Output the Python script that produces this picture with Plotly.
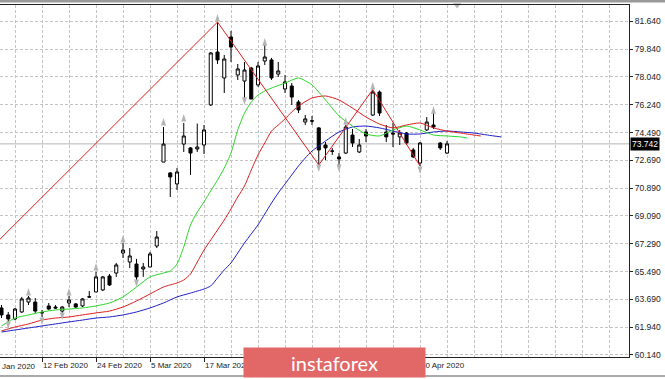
import plotly.graph_objects as go

# ---------------- data ----------------
bar_idx = list(range(67))  # trading days 4 Feb 2020 .. 6 May 2020

opens = [63.17, 62.72, 62.46, 62.91, 63.55, 63.55, 62.85, 63.30, 63.23, 62.97,
         63.49, 63.43, 63.30, 63.87, 64.20, 64.33, 65.23, 65.42, 66.71, 66.13,
         66.00, 65.68, 65.81, 67.16, 72.57, 71.87, 71.16, 73.73, 73.48, 73.41,
         73.67, 76.25, 79.66, 77.99, 80.63, 78.18, 77.79, 78.63, 77.54, 79.08,
         79.15, 78.24, 77.28, 77.47, 76.44, 75.15, 75.23, 74.77, 73.67, 73.29,
         72.90, 73.15, 74.31, 73.22, 74.51, 75.60, 77.08, 74.51, 74.44, 74.19,
         74.44, 73.35, 72.51, 74.64, 74.96, 73.80, 73.15]
highs = [63.36, 62.91, 63.17, 63.88, 63.94, 63.81, 63.04, 63.49, 63.36, 63.30,
         63.94, 63.49, 63.81, 64.26, 65.49, 65.23, 65.36, 66.07, 67.36, 67.03,
         66.33, 66.07, 66.78, 68.13, 74.83, 71.93, 72.19, 75.09, 73.54, 75.05,
         74.96, 79.66, 81.59, 79.47, 81.02, 78.89, 79.02, 78.70, 79.02, 80.11,
         79.28, 79.02, 78.18, 77.66, 76.57, 75.60, 75.54, 74.83, 73.86, 73.48,
         73.15, 74.96, 74.70, 74.06, 74.70, 77.24, 77.18, 74.96, 75.09, 74.64,
         74.51, 73.48, 73.86, 75.47, 75.73, 73.86, 73.93]
lows = [62.52, 62.20, 62.39, 62.85, 63.36, 62.85, 62.59, 63.04, 63.10, 62.85,
        63.23, 63.17, 63.23, 63.81, 64.20, 64.26, 64.59, 65.17, 66.39, 65.74,
        64.97, 65.17, 65.81, 67.03, 72.57, 70.32, 70.77, 73.22, 71.74, 73.22,
        73.09, 76.18, 78.89, 77.02, 79.02, 77.86, 76.57, 76.63, 77.41, 78.82,
        77.86, 78.05, 77.02, 76.25, 75.73, 74.96, 74.96, 72.38, 72.70, 73.03,
        72.25, 73.09, 73.54, 73.15, 73.86, 75.54, 75.54, 73.86, 73.54, 73.67,
        73.67, 72.83, 72.32, 74.57, 74.70, 73.35, 73.09]
closes = [62.72, 62.46, 63.10, 63.75, 63.81, 62.97, 62.87, 63.10, 63.17, 63.23,
          63.68, 63.23, 63.75, 63.89, 65.17, 65.17, 64.65, 65.94, 66.90, 66.52,
          65.17, 65.81, 66.65, 67.74, 73.73, 71.61, 71.93, 74.25, 73.15, 73.54,
          74.64, 79.60, 79.15, 79.21, 79.98, 78.57, 78.50, 76.63, 78.76, 79.34,
          77.99, 78.44, 77.73, 76.76, 75.93, 75.35, 75.21, 73.35, 73.48, 73.27,
          72.77, 74.83, 73.80, 73.67, 74.25, 77.08, 75.73, 74.19, 74.38, 74.44,
          73.80, 72.90, 73.80, 75.15, 74.83, 73.48, 73.742]

# Alligator lines (jaw = blue, teeth = red, lips = green)
jaw_idx = [0, 2, 4, 6, 8, 10, 12, 14, 16, 18, 20, 22, 24, 26, 28, 30, 31, 32, 33, 34,
           35, 36, 37, 38, 39, 40, 41, 42, 43, 44, 45, 46, 48, 50, 52, 54, 56, 58, 60,
           62, 64, 66, 68, 70, 72, 74]
jaw_val = [61.62, 61.75, 61.88, 62.01, 62.14, 62.27, 62.39, 62.52, 62.59, 62.72,
           62.91, 63.17, 63.49, 63.88, 64.13, 64.39, 64.59, 65.10, 65.62, 66.07,
           66.71, 67.36, 67.94, 68.52, 69.22, 69.93, 70.58, 71.16, 71.74, 72.32,
           72.83, 73.28, 73.93, 74.51, 74.83, 74.89, 74.77, 74.57, 74.38, 74.38,
           74.51, 74.57, 74.51, 74.44, 74.31, 74.19]

teeth_idx = [0, 2, 4, 6, 8, 10, 12, 14, 16, 18, 20, 22, 24, 26, 27, 28, 29, 30, 31, 32,
             33, 34, 35, 36, 37, 38, 39, 40, 41, 42, 43, 44, 46, 48, 50, 52, 54, 56, 58,
             60, 62, 64, 66, 68, 70, 71]
teeth_val = [61.69, 61.94, 62.14, 62.39, 62.52, 62.59, 62.72, 62.85, 62.97, 63.23,
             63.62, 64.07, 64.52, 64.78, 64.97, 65.36, 66.13, 66.90, 67.55, 68.19,
             68.84, 69.55, 70.32, 71.03, 72.06, 73.03, 73.80, 74.57, 74.96, 75.35,
             75.80, 76.18, 76.70, 76.83, 76.57, 76.05, 75.47, 75.02, 74.77, 74.96,
             75.09, 74.77, 74.57, 74.44, 74.31, 74.25]

lips_idx = [0, 2, 4, 6, 8, 10, 12, 14, 16, 18, 20, 22, 24, 25, 26, 27, 28, 29, 30, 31,
            32, 33, 34, 35, 36, 37, 38, 39, 40, 42, 44, 46, 48, 50, 52, 54, 56, 58, 60,
            62, 64, 66, 68, 69]
lips_val = [62.01, 62.52, 62.72, 62.91, 63.04, 63.10, 63.17, 63.30, 63.49, 63.88,
            64.52, 65.17, 65.42, 65.55, 66.00, 67.10, 68.52, 69.35, 70.00, 70.71,
            71.41, 72.19, 73.15, 74.64, 75.73, 76.44, 76.89, 77.15, 77.34, 77.66,
            77.99, 77.54, 76.57, 75.54, 74.89, 74.38, 74.25, 74.64, 74.89, 74.64,
            74.31, 74.25, 74.19, 74.12]

# ZigZag vertices (first one lies left of the visible window)
zz_idx = [-16, 32, 47, 55, 62]
zz_val = [60.75, 81.59, 72.38, 77.24, 72.32]

# Fractal arrows
frac_up_idx = [4, 10, 14, 18, 24, 27, 32, 39, 51, 55, 64]
frac_up_val = [64.46, 64.46, 66.07, 67.87, 75.41, 75.67, 82.11, 80.56, 75.47, 77.73, 76.18]
frac_dn_idx = [1, 6, 9, 20, 36, 47, 50, 62]
frac_dn_val = [61.81, 62.07, 62.39, 64.52, 76.25, 71.93, 71.93, 71.80]

# chart-shift marker position (bar index) at the top border
shift_idx = 67.5

# Axis labels
x_tick_idx = [6, 14, 22, 30, 38, 46, 54, 62]
x_tick_text = ["12 Feb 2020", "24 Feb 2020", "5 Mar 2020", "17 Mar 2020",
               "27 Mar 2020", "8 Apr 2020", "20 Apr 2020", "30 Apr 2020"]
x_cut_idx = -2
x_cut_text = "31 Jan 2020"

y_tick_vals = [60.140, 61.932, 63.723, 65.515, 67.307, 69.098, 70.890,
               72.682, 74.473, 76.265, 78.057, 79.848, 81.640]
y_tick_text = ["60.140", "61.940", "63.690", "65.490", "67.290", "69.090", "70.890",
               "72.690", "74.490", "76.240", "78.040", "79.840", "81.640"]

# ---------------- figure ----------------
X_RANGE = [-0.222, 92.96]
Y_RANGE = [60.01, 82.69]
W, H = 665, 379
M = dict(l=0, r=36, t=5, b=22)
plot_w = W - M["l"] - M["r"]
plot_h = H - M["t"] - M["b"]

RED = "#dc1e1e"
BLUE = "#1f1fc8"
LIME = "#2ad62a"
ARROW = "#b4b4b4"
FONT = "Liberation Sans"

fig = go.Figure()

fig.add_trace(go.Scatter(x=jaw_idx, y=jaw_val, mode="lines",
                         line=dict(color=BLUE, width=1, shape="spline", smoothing=0.6),
                         hoverinfo="skip"))
fig.add_trace(go.Scatter(x=teeth_idx, y=teeth_val, mode="lines",
                         line=dict(color=RED, width=1, shape="spline", smoothing=0.6),
                         hoverinfo="skip"))
fig.add_trace(go.Scatter(x=lips_idx, y=lips_val, mode="lines",
                         line=dict(color=LIME, width=1, shape="spline", smoothing=0.6),
                         hoverinfo="skip"))
fig.add_trace(go.Scatter(x=zz_idx, y=zz_val, mode="lines",
                         line=dict(color=RED, width=1), hoverinfo="skip"))

fig.add_trace(go.Candlestick(
    x=bar_idx, open=opens, high=highs, low=lows, close=closes,
    increasing=dict(line=dict(color="black", width=1), fillcolor="white"),
    decreasing=dict(line=dict(color="black", width=1), fillcolor="black"),
    whiskerwidth=0, hoverinfo="skip"))

fig.add_trace(go.Scatter(x=frac_up_idx, y=frac_up_val, mode="markers",
                         marker=dict(symbol="arrow", angle=0, size=8, color=ARROW,
                                     line=dict(width=0)),
                         hoverinfo="skip", cliponaxis=False))
fig.add_trace(go.Scatter(x=frac_dn_idx, y=frac_dn_val, mode="markers",
                         marker=dict(symbol="arrow", angle=180, size=8, color=ARROW,
                                     line=dict(width=0)),
                         hoverinfo="skip", cliponaxis=False))
fig.add_trace(go.Scatter(x=[shift_idx], y=[Y_RANGE[1]], mode="markers",
                         marker=dict(symbol="triangle-down", size=7, color="#b8b8b8",
                                     line=dict(width=0)),
                         hoverinfo="skip", cliponaxis=False))

grid = dict(showgrid=True, gridcolor="#c4c4c4", gridwidth=1, griddash="3px,2px")

fig.update_xaxes(range=X_RANGE, tickmode="array", tickvals=x_tick_idx, ticktext=x_tick_text,
                 ticks="outside", ticklen=4, tickcolor="#222", ticklabelposition="outside right",
                 tickangle=0, automargin=False,
                 tickfont=dict(family=FONT, size=8, color="#222"),
                 showline=True, linecolor="#222", linewidth=1, mirror=True,
                 zeroline=False, rangeslider=dict(visible=False), fixedrange=True,
                 minor=dict(tick0=2, dtick=4, ticks="", **grid), **grid)
fig.update_yaxes(range=Y_RANGE, side="right", tickmode="array", tickvals=y_tick_vals,
                 ticktext=y_tick_text, ticks="outside", ticklen=3, tickcolor="#222",
                 automargin=False,
                 tickfont=dict(family=FONT, size=8.5, color="#222"),
                 showline=True, linecolor="#222", linewidth=1,
                 zeroline=False, fixedrange=True, **grid)

last = closes[-1]
shapes = [
    dict(type="line", xref="paper", x0=0, x1=1, yref="y", y0=last, y1=last,
         line=dict(color="#b4b4b4", width=1), layer="below"),
    dict(type="rect", xref="paper", x0=-0.01, x1=1.1, yref="paper",
         y0=1 + (M["t"] - 2.5) / plot_h, y1=1 + M["t"] / plot_h,
         fillcolor="#9a9a9a", line=dict(width=0)),
    dict(type="line", xref="paper", x0=-0.01, x1=1.1, yref="paper",
         y0=-19 / plot_h, y1=-19 / plot_h, line=dict(color="#8c8c8c", width=1.5)),
]

ann = [
    dict(xref="paper", x=1, xanchor="left", yref="y", y=last, yanchor="middle",
         text=f"{last:.3f}", showarrow=False, bgcolor="black", borderpad=1, xshift=1,
         font=dict(family=FONT, size=8.5, color="white")),
    dict(xref="paper", x=(x_cut_idx - X_RANGE[0]) / (X_RANGE[1] - X_RANGE[0]),
         xanchor="left", yref="paper", y=0, yanchor="top", yshift=-3, xshift=1,
         text=x_cut_text, showarrow=False,
         font=dict(family=FONT, size=8, color="#222")),
    dict(xref="paper", x=334.5 / plot_w, xanchor="center", yref="paper",
         y=-5.5 / plot_h, yanchor="middle", text="instaforex", showarrow=False,
         width=181, height=29, bgcolor="#e26767", borderpad=0,
         font=dict(family="Lato", size=20, color="white")),
]

fig.update_layout(width=W, height=H, margin=M, paper_bgcolor="white", plot_bgcolor="white",
                  showlegend=False, shapes=shapes, annotations=ann,
                  boxgap=0.35, hovermode=False)

fig.write_html("out.html")
